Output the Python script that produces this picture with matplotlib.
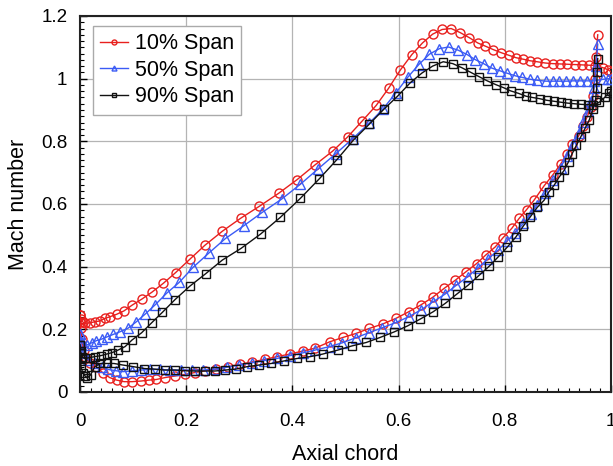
import matplotlib
matplotlib.use("Agg")
import matplotlib.pyplot as plt
from matplotlib.ticker import MultipleLocator

plt.rcParams['font.family'] = ['Liberation Sans', 'DejaVu Sans']

# ---------------- data ----------------
labels = ["10% Span", "50% Span", "90% Span"]

# 10% span
x10_up = [0.0, 0.002, 0.005, 0.009, 0.019, 0.028, 0.038, 0.047, 0.056, 0.069, 0.083, 0.098, 0.116,
          0.135, 0.157, 0.180, 0.207, 0.235, 0.268, 0.303, 0.338, 0.374, 0.409, 0.442, 0.476, 0.504,
          0.531, 0.558, 0.581, 0.603, 0.625, 0.645, 0.664, 0.682, 0.699, 0.716, 0.733, 0.749, 0.763,
          0.778, 0.793, 0.807, 0.821, 0.835, 0.848, 0.861, 0.876, 0.890, 0.904, 0.918, 0.932, 0.945,
          0.958, 0.970, 0.985, 0.995, 1.0]
y10_up = [0.245, 0.232, 0.224, 0.219, 0.221, 0.224, 0.227, 0.235, 0.240, 0.248, 0.259, 0.277, 0.296,
          0.318, 0.347, 0.381, 0.424, 0.468, 0.513, 0.555, 0.593, 0.634, 0.678, 0.724, 0.769, 0.814,
          0.864, 0.915, 0.969, 1.027, 1.077, 1.114, 1.142, 1.157, 1.160, 1.147, 1.131, 1.114, 1.104,
          1.093, 1.083, 1.075, 1.067, 1.062, 1.057, 1.054, 1.050, 1.048, 1.047, 1.046, 1.045, 1.044,
          1.043, 1.042, 1.035, 1.028, 1.022]
x10_lo = [0.0, 0.0, 0.001, 0.003, 0.007, 0.012, 0.019, 0.031, 0.044, 0.056, 0.069, 0.083, 0.098,
          0.115, 0.130, 0.144, 0.160, 0.179, 0.197, 0.216, 0.236, 0.257, 0.279, 0.301, 0.324, 0.348,
          0.371, 0.395, 0.420, 0.443, 0.470, 0.495, 0.520, 0.545, 0.570, 0.595, 0.619, 0.642, 0.664,
          0.686, 0.707, 0.727, 0.747, 0.764, 0.782, 0.797, 0.813, 0.827, 0.841, 0.855, 0.874, 0.890,
          0.905, 0.918, 0.927, 0.939, 0.947, 0.955, 0.962, 0.966, 0.969, 0.972, 0.975]
y10_lo = [0.245, 0.225, 0.205, 0.170, 0.135, 0.110, 0.092, 0.079, 0.060, 0.046, 0.038, 0.033, 0.033,
          0.035, 0.038, 0.040, 0.046, 0.051, 0.056, 0.062, 0.068, 0.073, 0.081, 0.088, 0.096, 0.104,
          0.113, 0.121, 0.131, 0.140, 0.160, 0.174, 0.187, 0.203, 0.217, 0.235, 0.256, 0.278, 0.302,
          0.331, 0.357, 0.384, 0.410, 0.437, 0.463, 0.493, 0.522, 0.554, 0.582, 0.612, 0.658, 0.692,
          0.727, 0.761, 0.791, 0.817, 0.848, 0.878, 0.908, 0.944, 1.000, 1.070, 1.140]

# 50% span
x50_up = [0.0, 0.004, 0.013, 0.022, 0.031, 0.041, 0.051, 0.063, 0.075, 0.090, 0.106, 0.123, 0.142,
          0.163, 0.187, 0.213, 0.243, 0.274, 0.308, 0.343, 0.380, 0.415, 0.449, 0.482, 0.514, 0.544,
          0.570, 0.595, 0.617, 0.638, 0.658, 0.677, 0.694, 0.712, 0.729, 0.744, 0.760, 0.775, 0.791,
          0.805, 0.820, 0.833, 0.848, 0.861, 0.877, 0.890, 0.903, 0.916, 0.929, 0.942, 0.955, 0.968,
          0.985, 0.995, 1.0]
y50_up = [0.185, 0.160, 0.150, 0.157, 0.164, 0.169, 0.176, 0.184, 0.192, 0.203, 0.224, 0.249, 0.279,
          0.315, 0.350, 0.398, 0.444, 0.490, 0.530, 0.573, 0.616, 0.663, 0.713, 0.761, 0.809, 0.857,
          0.902, 0.955, 1.004, 1.045, 1.078, 1.096, 1.101, 1.091, 1.077, 1.061, 1.048, 1.034, 1.025,
          1.017, 1.009, 1.004, 0.998, 0.995, 0.992, 0.992, 0.992, 0.992, 0.993, 0.993, 0.993, 0.993,
          0.998, 1.000, 1.000]
x50_lo = [0.0, 0.002, 0.006, 0.016, 0.028, 0.041, 0.053, 0.067, 0.081, 0.097, 0.114, 0.132, 0.150,
          0.169, 0.190, 0.210, 0.232, 0.254, 0.276, 0.299, 0.323, 0.346, 0.371, 0.395, 0.420, 0.443,
          0.470, 0.494, 0.519, 0.544, 0.569, 0.594, 0.619, 0.642, 0.665, 0.688, 0.709, 0.730, 0.750,
          0.769, 0.788, 0.804, 0.820, 0.835, 0.849, 0.861, 0.876, 0.891, 0.905, 0.917, 0.928, 0.939,
          0.948, 0.956, 0.963, 0.968, 0.972, 0.975]
y50_lo = [0.185, 0.150, 0.125, 0.102, 0.091, 0.081, 0.072, 0.068, 0.065, 0.067, 0.070, 0.072, 0.072,
          0.070, 0.070, 0.070, 0.070, 0.073, 0.079, 0.086, 0.093, 0.100, 0.107, 0.116, 0.125, 0.134,
          0.145, 0.157, 0.173, 0.189, 0.205, 0.221, 0.240, 0.262, 0.288, 0.313, 0.341, 0.368, 0.397,
          0.426, 0.453, 0.482, 0.509, 0.538, 0.568, 0.597, 0.636, 0.676, 0.716, 0.754, 0.790, 0.826,
          0.862, 0.896, 0.930, 0.970, 1.040, 1.110]

# 90% span
x90_up = [0.0, 0.001, 0.004, 0.009, 0.019, 0.028, 0.039, 0.050, 0.061, 0.072, 0.085, 0.098, 0.116,
          0.135, 0.155, 0.179, 0.207, 0.237, 0.268, 0.303, 0.340, 0.377, 0.415, 0.451, 0.484, 0.515,
          0.545, 0.572, 0.598, 0.622, 0.644, 0.664, 0.684, 0.702, 0.719, 0.736, 0.752, 0.767, 0.783,
          0.798, 0.811, 0.826, 0.840, 0.852, 0.866, 0.879, 0.892, 0.905, 0.918, 0.931, 0.944, 0.956,
          0.966, 0.978, 0.988, 0.996, 1.0]
y90_up = [0.150, 0.130, 0.112, 0.107, 0.110, 0.113, 0.116, 0.121, 0.126, 0.134, 0.145, 0.166, 0.189,
          0.221, 0.254, 0.295, 0.338, 0.378, 0.421, 0.458, 0.504, 0.557, 0.618, 0.681, 0.742, 0.804,
          0.855, 0.902, 0.944, 0.987, 1.018, 1.040, 1.054, 1.048, 1.035, 1.020, 1.006, 0.993, 0.981,
          0.971, 0.961, 0.953, 0.944, 0.940, 0.936, 0.931, 0.928, 0.925, 0.922, 0.920, 0.918, 0.917,
          0.917, 0.925, 0.940, 0.955, 0.960]
x90_lo = [0.0, 0.0, 0.001, 0.002, 0.005, 0.009, 0.014, 0.020, 0.028, 0.038, 0.050, 0.064, 0.081,
          0.100, 0.121, 0.141, 0.160, 0.179, 0.197, 0.216, 0.235, 0.254, 0.273, 0.293, 0.315, 0.337,
          0.360, 0.384, 0.409, 0.434, 0.457, 0.486, 0.512, 0.539, 0.565, 0.592, 0.617, 0.641, 0.665,
          0.688, 0.710, 0.731, 0.752, 0.771, 0.788, 0.805, 0.821, 0.835, 0.848, 0.861, 0.874, 0.883,
          0.893, 0.902, 0.912, 0.920, 0.927, 0.935, 0.943, 0.951, 0.959, 0.966, 0.971, 0.973, 0.974,
          0.975]
y90_lo = [0.150, 0.125, 0.100, 0.080, 0.062, 0.052, 0.045, 0.055, 0.081, 0.091, 0.091, 0.091, 0.086,
          0.081, 0.075, 0.073, 0.070, 0.070, 0.068, 0.067, 0.067, 0.067, 0.070, 0.073, 0.081, 0.086,
          0.091, 0.099, 0.107, 0.113, 0.121, 0.134, 0.147, 0.158, 0.174, 0.192, 0.211, 0.233, 0.256,
          0.283, 0.313, 0.341, 0.373, 0.402, 0.432, 0.463, 0.495, 0.530, 0.559, 0.589, 0.612, 0.639,
          0.660, 0.685, 0.708, 0.735, 0.761, 0.788, 0.814, 0.841, 0.868, 0.902, 0.931, 0.970, 1.020,
          1.064]

x_ticks = [0, 0.2, 0.4, 0.6, 0.8, 1]
y_ticks = [0, 0.2, 0.4, 0.6, 0.8, 1, 1.2]
x_tick_labels = ["0", "0.2", "0.4", "0.6", "0.8", "1"]
y_tick_labels = ["0", "0.2", "0.4", "0.6", "0.8", "1", "1.2"]

# ---------------- plot ----------------
fig = plt.figure(figsize=(6.13, 4.66), dpi=100)
ax = fig.add_axes([80/613, 1-392/466, (611-80)/613, (392-16)/466])

styles = [
    dict(color='#e8201e', marker='o', ms=6.5),
    dict(color='#3b5bf5', marker='^', ms=6.5),
    dict(color='#111111', marker='s', ms=6.0),
]
series = [(x10_up, y10_up, x10_lo, y10_lo),
          (x50_up, y50_up, x50_lo, y50_lo),
          (x90_up, y90_up, x90_lo, y90_lo)]

handles = []
for (xu, yu, xl, yl), st, lab in zip(series, styles, labels):
    h, = ax.plot(xu, yu, color=st['color'], lw=1.0, marker=st['marker'], ms=st['ms'],
                 mfc='none', mec=st['color'], mew=1.0, label=lab, zorder=3)
    ax.plot(xl, yl, color=st['color'], lw=1.0, marker=st['marker'], ms=st['ms'],
            mfc='none', mec=st['color'], mew=1.0, zorder=3)
    handles.append(h)

ax.set_xlim(0, 1)
ax.set_ylim(0, 1.2)
ax.set_xticks(x_ticks)
ax.set_xticklabels(x_tick_labels)
ax.set_yticks(y_ticks)
ax.set_yticklabels(y_tick_labels)
ax.xaxis.set_minor_locator(MultipleLocator(0.02))
ax.yaxis.set_minor_locator(MultipleLocator(0.02))
ax.tick_params(which='major', direction='in', length=5, width=1.0, labelsize=13.5)
ax.tick_params(axis='x', which='major', pad=15)
ax.tick_params(axis='y', which='major', pad=9)
ax.tick_params(which='minor', direction='in', length=3, width=0.8)
ax.grid(True, which='major', color='#b4b4b4', lw=0.9, zorder=0)
for sp in ax.spines.values():
    sp.set_linewidth(1.5)
    sp.set_color('#222222')

ax.set_xlabel("Axial chord", fontsize=15.5, labelpad=10)
ax.set_ylabel("Mach number", fontsize=15.5, labelpad=9)

leg = ax.legend(handles=handles, loc='upper left', bbox_to_anchor=(0.016, 0.985),
                fontsize=15.5, markerscale=0.55, handlelength=1.3, handletextpad=0.3,
                labelspacing=0.25, borderpad=0.35, fancybox=False, framealpha=1,
                edgecolor='#aaaaaa', borderaxespad=0.2)
leg.get_frame().set_linewidth(1.0)

fig.savefig("out.png", dpi=100)
